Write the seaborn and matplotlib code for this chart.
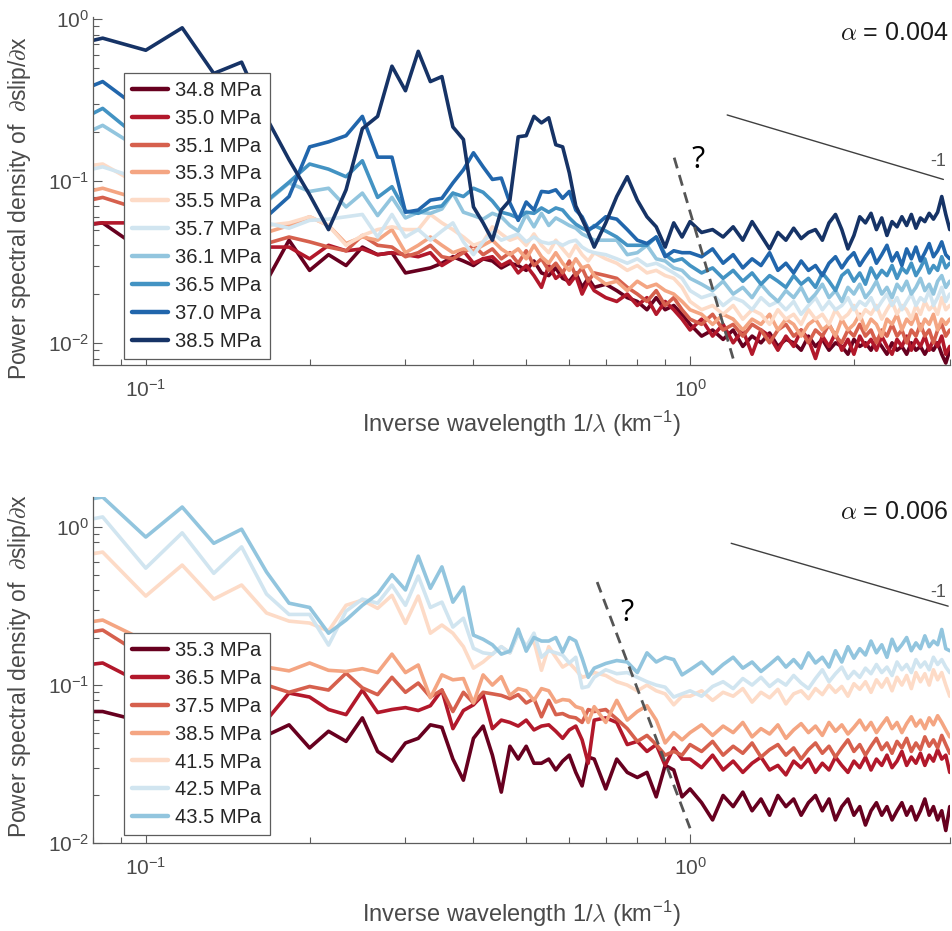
import numpy as np
import pandas as pd
import matplotlib
matplotlib.use("Agg")
import matplotlib.pyplot as plt
from matplotlib.lines import Line2D
from matplotlib.ticker import LogLocator, NullFormatter
import seaborn as sns

# spectra sampled at k / 60 km; the short-wavelength end is thinned out
domain_km = 60.0
wave_index = list(range(4, 41)) + list(range(42, 59, 2)) + list(range(60, 181, 3))

# ---- upper panel, alpha = 0.004 ----
top_labels = ["34.8 MPa", "35.0 MPa", "35.1 MPa", "35.3 MPa", "35.5 MPa",
              "35.7 MPa", "36.1 MPa", "36.5 MPa", "37.0 MPa", "38.5 MPa"]
top_colors = ["#67001f", "#b2182b", "#d6604d", "#f4a582", "#fddbc7",
              "#d1e5f0", "#92c5de", "#4393c3", "#2166ac", "#163366"]

top_psd_348 = [
    0.05, 0.055, 0.036, 0.032, 0.026, 0.022, 0.024, 0.043, 0.028, 0.035, 0.03, 0.039, 0.035, 0.036, 0.027, 0.028, 0.029, 0.031, 0.034, 0.032, 0.03, 0.033, 0.032, 0.029, 0.031, 0.03, 0.028, 0.032, 0.027, 0.026, 0.029, 0.025, 0.024, 0.027, 0.022, 0.025, 0.022,
    0.023, 0.021, 0.019, 0.018, 0.016, 0.019, 0.016, 0.017, 0.015,
    0.013, 0.011, 0.012, 0.0105, 0.012, 0.0095, 0.011, 0.01, 0.0115, 0.0095, 0.0105, 0.01, 0.009, 0.011, 0.0095, 0.0105, 0.009, 0.01, 0.0095, 0.0085, 0.0105, 0.0095, 0.01, 0.009, 0.0105, 0.0095, 0.0085, 0.01, 0.009, 0.0095, 0.0085, 0.01, 0.009, 0.0095, 0.0085, 0.0095, 0.009, 0.01, 0.0085, 0.0075, 0.009]
top_psd_350 = [
    0.052, 0.055, 0.055, 0.055, 0.05, 0.045, 0.039, 0.039, 0.033, 0.04, 0.037, 0.038, 0.035, 0.036, 0.035, 0.034, 0.036, 0.03, 0.033, 0.037, 0.031, 0.033, 0.034, 0.03, 0.032, 0.027, 0.03, 0.026, 0.022, 0.03, 0.025, 0.027, 0.023, 0.026, 0.02, 0.024, 0.021,
    0.019, 0.018, 0.02, 0.017, 0.019, 0.015, 0.018, 0.016, 0.014,
    0.012, 0.014, 0.011, 0.013, 0.01, 0.012, 0.0085, 0.012, 0.011, 0.009, 0.011, 0.0095, 0.012, 0.0105, 0.008, 0.011, 0.0095, 0.0115, 0.009, 0.0105, 0.0085, 0.011, 0.0095, 0.0105, 0.009, 0.011, 0.0095, 0.0085, 0.0105, 0.0095, 0.011, 0.009, 0.0105, 0.0095, 0.011, 0.009, 0.0105, 0.0095, 0.011, 0.0085, 0.0095]
top_psd_351 = [
    0.067, 0.079, 0.065, 0.055, 0.048, 0.044, 0.041, 0.045, 0.042, 0.039, 0.037, 0.046, 0.04, 0.039, 0.034, 0.036, 0.04, 0.034, 0.033, 0.036, 0.04, 0.035, 0.038, 0.033, 0.036, 0.031, 0.037, 0.03, 0.033, 0.028, 0.031, 0.027, 0.032, 0.026, 0.029, 0.024, 0.027,
    0.026, 0.025, 0.022, 0.02, 0.018, 0.021, 0.017, 0.019, 0.016,
    0.014, 0.013, 0.015, 0.012, 0.013, 0.011, 0.013, 0.012, 0.01, 0.012, 0.013, 0.011, 0.012, 0.01, 0.012, 0.011, 0.013, 0.011, 0.01, 0.012, 0.011, 0.013, 0.011, 0.012, 0.01, 0.012, 0.011, 0.013, 0.011, 0.012, 0.01, 0.012, 0.011, 0.013, 0.011, 0.012, 0.01, 0.012, 0.013, 0.011, 0.012]
top_psd_353 = [
    0.076, 0.09, 0.075, 0.065, 0.058, 0.055, 0.048, 0.053, 0.06, 0.053, 0.041, 0.045, 0.043, 0.05, 0.036, 0.04, 0.045, 0.04, 0.036, 0.038, 0.037, 0.04, 0.043, 0.038, 0.035, 0.038, 0.033, 0.04, 0.034, 0.031, 0.036, 0.031, 0.028, 0.033, 0.029, 0.03, 0.026,
    0.023, 0.024, 0.021, 0.024, 0.022, 0.023, 0.021, 0.02, 0.018,
    0.016, 0.015, 0.013, 0.015, 0.014, 0.012, 0.014, 0.013, 0.015, 0.012, 0.014, 0.013, 0.011, 0.013, 0.014, 0.012, 0.013, 0.011, 0.014, 0.012, 0.013, 0.015, 0.012, 0.014, 0.013, 0.011, 0.014, 0.013, 0.015, 0.012, 0.014, 0.013, 0.015, 0.012, 0.014, 0.013, 0.015, 0.012, 0.014, 0.013, 0.014]
top_psd_355 = [
    0.115, 0.127, 0.09, 0.075, 0.065, 0.06, 0.053, 0.055, 0.06, 0.053, 0.04, 0.046, 0.05, 0.052, 0.05, 0.05, 0.062, 0.055, 0.05, 0.045, 0.04, 0.042, 0.052, 0.047, 0.043, 0.045, 0.04, 0.047, 0.04, 0.036, 0.043, 0.038, 0.034, 0.04, 0.035, 0.032, 0.036,
    0.033, 0.031, 0.028, 0.03, 0.027, 0.028, 0.026, 0.025, 0.022,
    0.018, 0.016, 0.017, 0.015, 0.017, 0.014, 0.016, 0.015, 0.013, 0.016, 0.014, 0.015, 0.013, 0.016, 0.014, 0.015, 0.013, 0.016, 0.014, 0.015, 0.017, 0.014, 0.016, 0.015, 0.017, 0.014, 0.016, 0.018, 0.015, 0.017, 0.016, 0.014, 0.017, 0.015, 0.018, 0.016, 0.017, 0.015, 0.019, 0.016, 0.017]
top_psd_357 = [
    0.103, 0.122, 0.1, 0.085, 0.07, 0.065, 0.055, 0.051, 0.057, 0.058, 0.06, 0.062, 0.045, 0.062, 0.045, 0.05, 0.043, 0.049, 0.055, 0.042, 0.035, 0.042, 0.048, 0.043, 0.045, 0.047, 0.042, 0.045, 0.042, 0.041, 0.042, 0.04, 0.042, 0.043, 0.039, 0.037, 0.036,
    0.035, 0.033, 0.031, 0.033, 0.03, 0.031, 0.029, 0.027, 0.025,
    0.021, 0.019, 0.02, 0.017, 0.019, 0.018, 0.016, 0.019, 0.017, 0.018, 0.016, 0.018, 0.015, 0.017, 0.019, 0.016, 0.018, 0.016, 0.017, 0.019, 0.016, 0.018, 0.017, 0.019, 0.016, 0.018, 0.02, 0.017, 0.019, 0.016, 0.018, 0.02, 0.017, 0.019, 0.018, 0.021, 0.017, 0.019, 0.022, 0.018, 0.02]
top_psd_361 = [
    0.156, 0.22, 0.15, 0.11, 0.09, 0.075, 0.074, 0.097, 0.086, 0.09, 0.069, 0.084, 0.061, 0.079, 0.059, 0.064, 0.063, 0.067, 0.084, 0.064, 0.061, 0.058, 0.063, 0.06, 0.053, 0.049, 0.062, 0.052, 0.063, 0.053, 0.059, 0.056, 0.053, 0.051, 0.047, 0.045, 0.043,
    0.043, 0.043, 0.035, 0.036, 0.04, 0.033, 0.032, 0.029, 0.028,
    0.025, 0.023, 0.021, 0.024, 0.02, 0.022, 0.019, 0.023, 0.02, 0.018, 0.021, 0.019, 0.022, 0.018, 0.02, 0.023, 0.019, 0.021, 0.018, 0.022, 0.02, 0.023, 0.019, 0.021, 0.024, 0.02, 0.022, 0.019, 0.023, 0.021, 0.024, 0.02, 0.022, 0.025, 0.021, 0.023, 0.02, 0.024, 0.026, 0.022, 0.024]
top_psd_365 = [
    0.19, 0.28, 0.17, 0.12, 0.09, 0.07, 0.075, 0.098, 0.127, 0.118, 0.106, 0.133, 0.079, 0.092, 0.065, 0.063, 0.068, 0.07, 0.084, 0.08, 0.09, 0.085, 0.075, 0.064, 0.062, 0.059, 0.064, 0.063, 0.068, 0.064, 0.068, 0.066, 0.059, 0.054, 0.051, 0.049, 0.053,
    0.049, 0.045, 0.04, 0.04, 0.04, 0.045, 0.035, 0.032, 0.033,
    0.03, 0.027, 0.029, 0.025, 0.028, 0.024, 0.027, 0.023, 0.026, 0.024, 0.022, 0.026, 0.023, 0.025, 0.022, 0.027, 0.024, 0.021, 0.026, 0.028, 0.024, 0.027, 0.023, 0.029, 0.025, 0.028, 0.026, 0.03, 0.025, 0.029, 0.027, 0.031, 0.026, 0.029, 0.033, 0.027, 0.03, 0.028, 0.034, 0.029, 0.031]
top_psd_370 = [
    0.30, 0.41, 0.26, 0.18, 0.12, 0.08, 0.06, 0.08, 0.162, 0.174, 0.19, 0.25, 0.14, 0.14, 0.064, 0.066, 0.076, 0.078, 0.097, 0.117, 0.149, 0.122, 0.102, 0.104, 0.073, 0.057, 0.074, 0.066, 0.086, 0.085, 0.088, 0.078, 0.086, 0.066, 0.06, 0.05, 0.052,
    0.06, 0.058, 0.05, 0.043, 0.041, 0.045, 0.034, 0.037, 0.036,
    0.036, 0.034, 0.038, 0.031, 0.035, 0.029, 0.033, 0.03, 0.036, 0.028, 0.031, 0.027, 0.032, 0.028, 0.03, 0.026, 0.031, 0.034, 0.029, 0.033, 0.036, 0.03, 0.034, 0.038, 0.031, 0.035, 0.04, 0.032, 0.036, 0.03, 0.038, 0.033, 0.039, 0.032, 0.036, 0.041, 0.034, 0.037, 0.042, 0.035, 0.033]
top_psd_385 = [
    0.64, 0.76, 0.64, 0.88, 0.46, 0.54, 0.245, 0.135, 0.082, 0.05, 0.088, 0.21, 0.25, 0.51, 0.36, 0.63, 0.41, 0.44, 0.215, 0.18, 0.069, 0.055, 0.043, 0.066, 0.076, 0.187, 0.19, 0.25, 0.228, 0.245, 0.167, 0.162, 0.112, 0.07, 0.058, 0.048, 0.039,
    0.055, 0.08, 0.106, 0.076, 0.06, 0.052, 0.039, 0.055, 0.045,
    0.056, 0.048, 0.05, 0.045, 0.052, 0.043, 0.056, 0.046, 0.038, 0.048, 0.043, 0.051, 0.044, 0.048, 0.05, 0.043, 0.055, 0.062, 0.05, 0.038, 0.046, 0.06, 0.055, 0.063, 0.05, 0.059, 0.046, 0.056, 0.052, 0.06, 0.053, 0.062, 0.051, 0.059, 0.056, 0.063, 0.058, 0.064, 0.08, 0.062, 0.05]

# ---- lower panel, alpha = 0.006 ----
bot_labels = ["35.3 MPa", "36.5 MPa", "37.5 MPa", "38.5 MPa",
              "41.5 MPa", "42.5 MPa", "43.5 MPa"]
bot_colors = ["#67001f", "#b2182b", "#d6604d", "#f4a582",
              "#fddbc7", "#d1e5f0", "#92c5de"]

bot_psd_353 = [
    0.068, 0.068, 0.058, 0.055, 0.05, 0.047, 0.048, 0.056, 0.04, 0.051, 0.044, 0.062, 0.038, 0.033, 0.043, 0.046, 0.056, 0.054, 0.034, 0.025, 0.046, 0.055, 0.036, 0.021, 0.041, 0.034, 0.041, 0.032, 0.032, 0.034, 0.029, 0.033, 0.036, 0.028, 0.023, 0.035, 0.034,
    0.022, 0.034, 0.028, 0.026, 0.028, 0.0196, 0.031, 0.029, 0.0196,
    0.022, 0.018, 0.014, 0.02, 0.017, 0.021, 0.016, 0.019, 0.015, 0.02, 0.017, 0.019, 0.015, 0.018, 0.02, 0.016, 0.019, 0.014, 0.017, 0.019, 0.015, 0.017, 0.013, 0.016, 0.018, 0.015, 0.017, 0.014, 0.016, 0.018, 0.015, 0.017, 0.014, 0.016, 0.019, 0.015, 0.017, 0.014, 0.016, 0.012, 0.017]
bot_psd_365 = [
    0.126, 0.138, 0.1, 0.09, 0.08, 0.075, 0.06, 0.089, 0.084, 0.07, 0.065, 0.093, 0.067, 0.07, 0.072, 0.069, 0.074, 0.093, 0.053, 0.069, 0.075, 0.087, 0.053, 0.06, 0.058, 0.055, 0.06, 0.052, 0.055, 0.056, 0.051, 0.046, 0.052, 0.055, 0.045, 0.032, 0.06,
    0.062, 0.058, 0.042, 0.044, 0.038, 0.042, 0.031, 0.04, 0.034,
    0.034, 0.03, 0.036, 0.029, 0.033, 0.028, 0.032, 0.035, 0.029, 0.031, 0.027, 0.033, 0.03, 0.034, 0.028, 0.032, 0.029, 0.035, 0.031, 0.028, 0.033, 0.03, 0.035, 0.029, 0.034, 0.031, 0.036, 0.03, 0.033, 0.038, 0.031, 0.035, 0.032, 0.037, 0.031, 0.036, 0.033, 0.039, 0.034, 0.036, 0.028]
bot_psd_375 = [
    0.197, 0.223, 0.15, 0.13, 0.12, 0.11, 0.1, 0.09, 0.098, 0.093, 0.119, 0.096, 0.087, 0.112, 0.09, 0.103, 0.084, 0.093, 0.068, 0.09, 0.077, 0.09, 0.088, 0.086, 0.082, 0.087, 0.077, 0.082, 0.063, 0.08, 0.065, 0.066, 0.063, 0.062, 0.058, 0.07, 0.068,
    0.07, 0.061, 0.053, 0.044, 0.048, 0.042, 0.036, 0.038, 0.036,
    0.042, 0.038, 0.044, 0.036, 0.041, 0.037, 0.043, 0.035, 0.039, 0.042, 0.036, 0.04, 0.034, 0.039, 0.043, 0.037, 0.041, 0.035, 0.04, 0.045, 0.038, 0.042, 0.036, 0.041, 0.046, 0.039, 0.043, 0.037, 0.044, 0.04, 0.046, 0.038, 0.043, 0.039, 0.047, 0.041, 0.045, 0.04, 0.048, 0.042, 0.037]
bot_psd_385 = [
    0.23, 0.258, 0.19, 0.17, 0.15, 0.14, 0.13, 0.123, 0.138, 0.124, 0.122, 0.127, 0.12, 0.157, 0.12, 0.134, 0.083, 0.116, 0.108, 0.11, 0.077, 0.116, 0.1, 0.113, 0.086, 0.095, 0.092, 0.08, 0.095, 0.092, 0.078, 0.081, 0.08, 0.073, 0.071, 0.058, 0.073,
    0.058, 0.08, 0.06, 0.068, 0.074, 0.06, 0.043, 0.05, 0.045,
    0.05, 0.056, 0.048, 0.055, 0.05, 0.058, 0.047, 0.053, 0.049, 0.056, 0.046, 0.052, 0.057, 0.05, 0.055, 0.048, 0.058, 0.051, 0.056, 0.049, 0.054, 0.06, 0.052, 0.058, 0.05, 0.056, 0.062, 0.053, 0.058, 0.05, 0.057, 0.063, 0.055, 0.06, 0.053, 0.062, 0.056, 0.064, 0.058, 0.052, 0.047]
bot_psd_415 = [
    0.61, 0.695, 0.366, 0.575, 0.35, 0.43, 0.286, 0.254, 0.247, 0.22, 0.32, 0.345, 0.306, 0.37, 0.246, 0.366, 0.213, 0.24, 0.213, 0.175, 0.128, 0.14, 0.157, 0.175, 0.16, 0.213, 0.175, 0.19, 0.124, 0.175, 0.15, 0.13, 0.138, 0.125, 0.112, 0.115, 0.12,
    0.115, 0.105, 0.1, 0.092, 0.1, 0.092, 0.088, 0.075, 0.085,
    0.085, 0.092, 0.08, 0.09, 0.085, 0.095, 0.078, 0.09, 0.083, 0.094, 0.076, 0.088, 0.092, 0.082, 0.095, 0.087, 0.1, 0.09, 0.098, 0.085, 0.102, 0.094, 0.105, 0.09, 0.108, 0.097, 0.11, 0.092, 0.112, 0.1, 0.115, 0.095, 0.12, 0.105, 0.118, 0.1, 0.125, 0.108, 0.12, 0.1, 0.085]
bot_psd_425 = [
    1.0, 1.16, 0.55, 0.92, 0.51, 0.75, 0.377, 0.28, 0.28, 0.179, 0.294, 0.35, 0.33, 0.43, 0.32, 0.49, 0.31, 0.335, 0.233, 0.265, 0.171, 0.16, 0.157, 0.175, 0.16, 0.213, 0.175, 0.213, 0.15, 0.165, 0.16, 0.155, 0.138, 0.15, 0.096, 0.098, 0.112,
    0.125, 0.118, 0.12, 0.112, 0.105, 0.1, 0.097, 0.084, 0.088,
    0.092, 0.085, 0.098, 0.105, 0.095, 0.11, 0.1, 0.112, 0.098, 0.108, 0.1, 0.115, 0.103, 0.095, 0.11, 0.125, 0.105, 0.118, 0.13, 0.11, 0.122, 0.112, 0.128, 0.118, 0.135, 0.12, 0.13, 0.115, 0.14, 0.125, 0.135, 0.12, 0.145, 0.13, 0.14, 0.125, 0.15, 0.135, 0.145, 0.13, 0.12]
bot_psd_435 = [
    1.37, 1.55, 0.865, 1.34, 0.79, 0.97, 0.52, 0.33, 0.31, 0.213, 0.258, 0.32, 0.377, 0.50, 0.40, 0.655, 0.41, 0.56, 0.335, 0.417, 0.207, 0.195, 0.18, 0.157, 0.164, 0.226, 0.164, 0.2, 0.19, 0.19, 0.2, 0.162, 0.2, 0.19, 0.148, 0.112, 0.128,
    0.137, 0.143, 0.14, 0.12, 0.16, 0.14, 0.15, 0.145, 0.116,
    0.125, 0.14, 0.118, 0.135, 0.15, 0.128, 0.14, 0.122, 0.135, 0.15, 0.13, 0.145, 0.128, 0.16, 0.138, 0.15, 0.13, 0.165, 0.14, 0.175, 0.148, 0.17, 0.155, 0.19, 0.16, 0.18, 0.15, 0.195, 0.165, 0.18, 0.2, 0.165, 0.185, 0.17, 0.205, 0.175, 0.19, 0.18, 0.225, 0.17, 0.165]

top_series = [top_psd_348, top_psd_350, top_psd_351, top_psd_353, top_psd_355,
              top_psd_357, top_psd_361, top_psd_365, top_psd_370, top_psd_385]
bot_series = [bot_psd_353, bot_psd_365, bot_psd_375, bot_psd_385,
              bot_psd_415, bot_psd_425, bot_psd_435]

# guide lines: -1 slope reference and the dashed "?" cutoff
top_slope_x, top_slope_y = [1.17, 2.92], [0.255, 0.102]
top_cut_x, top_cut_y = [0.935, 1.20], [0.139, 0.008]
bot_slope_x, bot_slope_y = [1.19, 2.98], [0.79, 0.316]
bot_cut_x, bot_cut_y = [0.675, 1.0], [0.449, 0.0124]


def long_table(series, labels):
    rows = []
    for lab, vals in zip(labels, series):
        if len(vals) != len(wave_index):
            raise ValueError(f"{lab}: {len(vals)} values, expected {len(wave_index)}")
        for k, v in zip(wave_index, vals):
            rows.append((k / domain_km, v, lab))
    return pd.DataFrame(rows, columns=["inv_wl", "psd", "stress"])


sns.set_style("ticks")
plt.rcParams["font.family"] = ["Liberation Sans", "DejaVu Sans"]
plt.rcParams["mathtext.fontset"] = "cm"

axis_grey = "#5c5c5c"
text_grey = "#4a4a4a"

fig = plt.figure(figsize=(9.53, 9.31), dpi=100)
ax1 = fig.add_axes([0.0976, 0.608, 0.899, 0.374])
ax2 = fig.add_axes([0.0976, 0.0945, 0.899, 0.3716])


def draw_panel(ax, series, labels, colors, ylim, legend_top, xlab_y, ylab_y):
    df = long_table(series, labels)
    sns.lineplot(data=df, x="inv_wl", y="psd", hue="stress", hue_order=labels,
                 palette=colors, linewidth=2.6, estimator=None, sort=False,
                 legend=False, ax=ax)
    ax.set_xscale("log")
    ax.set_yscale("log")
    ax.set_xlim(0.08, 3.0)
    ax.set_ylim(*ylim)
    sns.despine(ax=ax)
    for s in ("left", "bottom"):
        ax.spines[s].set_color(axis_grey)
        ax.spines[s].set_linewidth(0.9)
    ax.tick_params(which="both", direction="in", color=axis_grey,
                   labelcolor=text_grey, labelsize=15, width=0.8)
    ax.tick_params(which="major", length=6.5)
    ax.tick_params(which="minor", length=4.5)
    ax.tick_params(axis="x", which="major", pad=10)
    ax.tick_params(axis="y", which="major", pad=3)
    ax.yaxis.set_minor_locator(LogLocator(base=10, subs=np.arange(2, 10) * 1.0, numticks=20))
    ax.xaxis.set_minor_locator(LogLocator(base=10, subs=np.arange(2, 10) * 1.0, numticks=20))
    ax.xaxis.set_minor_formatter(NullFormatter())
    ax.yaxis.set_minor_formatter(NullFormatter())

    ax.set_xlabel(r"Inverse wavelength 1/$\lambda$ (km$^{\mathdefault{-1}}$)",
                  fontsize=17, color=text_grey)
    ax.set_ylabel(r"Power spectral density of  $\partial$slip/$\partial$x",
                  fontsize=16.5, color=text_grey)
    ax.xaxis.set_label_coords(0.5, xlab_y)
    ax.yaxis.set_label_coords(-0.07, ylab_y)

    handles = [Line2D([], [], color=c, lw=3.2) for c in colors]
    leg = ax.legend(handles, labels, loc="upper left",
                    bbox_to_anchor=(0.036, legend_top), borderaxespad=0,
                    frameon=True, fancybox=False, framealpha=1,
                    edgecolor=axis_grey, fontsize=14.5, handlelength=1.8,
                    handletextpad=0.35, borderpad=0.4, labelspacing=0.44)
    leg.get_frame().set_linewidth(0.9)
    for t in leg.get_texts():
        t.set_color("#262626")


draw_panel(ax1, top_series, top_labels, top_colors, (0.0073, 1.03), 0.839, -0.125, 0.45)
draw_panel(ax2, bot_series, bot_labels, bot_colors, (0.01, 1.55), 0.607, -0.16, 0.51)

# annotations
for ax, sx, sy, cx, cy, alpha_txt, ay, qx, qy, my in [
    (ax1, top_slope_x, top_slope_y, top_cut_x, top_cut_y, "0.004", 0.954, 0.706, 0.589, 0.583),
    (ax2, bot_slope_x, bot_slope_y, bot_cut_x, bot_cut_y, "0.006", 0.957, 0.624, 0.665, 0.723),
]:
    ax.plot(sx, sy, color="#404040", lw=1.0, zorder=3)
    ax.plot(cx, cy, color="#555555", lw=2.0, ls=(0, (4, 2.5)), zorder=3)
    ax.text(0.998, ay, r"$\alpha$ = " + alpha_txt, transform=ax.transAxes,
            ha="right", va="center", fontsize=18, color="#1a1a1a")
    ax.text(qx, qy, "?", transform=ax.transAxes, ha="center", va="center",
            fontsize=22, color="black", family=["Open Sans", "DejaVu Sans"])
    ax.text(0.987, my, "-1", transform=ax.transAxes, ha="center", va="center",
            fontsize=13, color="#555555")

fig.savefig("out.png", dpi=100)
